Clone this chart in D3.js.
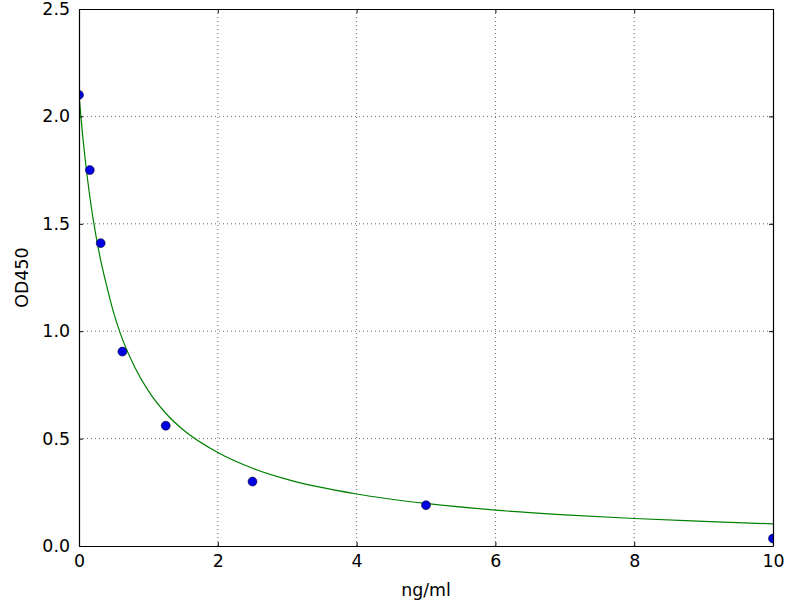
<!DOCTYPE html>
<html>
<head>
<meta charset="utf-8">
<script src="https://cdn.jsdelivr.net/npm/d3@7"></script>
<style>
  body { margin: 0; background: #fff; }
  text { font-family: "DejaVu Sans", sans-serif; fill: #000; }
</style>
</head>
<body>
<svg id="chart"></svg>
<script>
// measured standards (ng/ml vs OD450)
var concs = [0, 0.156, 0.3125, 0.625, 1.25, 2.5, 5, 10];
var ods   = [2.10, 1.75, 1.41, 0.905, 0.56, 0.30, 0.19, 0.035];

// fitted curve
var curveX = [0, 0.05, 0.1, 0.15, 0.2, 0.3, 0.4, 0.5, 0.6, 0.8, 1.0, 1.25, 1.5, 2, 2.5, 3, 4, 5, 6, 7, 8, 9, 10];
var curveY = [2.10, 1.92, 1.77, 1.64, 1.53, 1.35, 1.21, 1.085, 0.985, 0.835, 0.722, 0.618, 0.541, 0.435, 0.362, 0.31, 0.242, 0.198, 0.167, 0.145, 0.128, 0.115, 0.103];

var xTicks = [0, 2, 4, 6, 8, 10];
var yTicks = [0.0, 0.5, 1.0, 1.5, 2.0, 2.5];

var width = 800, height = 600;
var margin = {top: 9, right: 27, bottom: 54, left: 79};
var w = width - margin.left - margin.right,
    h = height - margin.top - margin.bottom;

var x = d3.scaleLinear().domain([0, 10]).range([0, w]);
var y = d3.scaleLinear().domain([0, 2.5]).range([h, 0]);

var svg = d3.select("#chart")
    .attr("width", width)
    .attr("height", height)
    .append("g")
    .attr("transform", "translate(" + margin.left + "," + margin.top + ")");

svg.append("clipPath").attr("id", "plotclip")
    .append("rect").attr("width", w).attr("height", h);

// dotted grid
svg.selectAll(".vgrid")
    .data(xTicks.slice(1, -1))
    .enter().append("line")
    .attr("x1", function(d) { return x(d); })
    .attr("x2", function(d) { return x(d); })
    .attr("y1", 0).attr("y2", h)
    .style("stroke", "#444").style("stroke-width", 0.8)
    .style("stroke-dasharray", "1,3");

svg.selectAll(".hgrid")
    .data(yTicks.slice(1, -1))
    .enter().append("line")
    .attr("y1", function(d) { return y(d); })
    .attr("y2", function(d) { return y(d); })
    .attr("x1", 0).attr("x2", w)
    .style("stroke", "#444").style("stroke-width", 0.8)
    .style("stroke-dasharray", "1,3");

// fitted line
var fit = curveX.map(function(d, i) { return {x: d, y: curveY[i]}; });
var valueline = d3.line()
    .curve(d3.curveMonotoneX)
    .x(function(d) { return x(d.x); })
    .y(function(d) { return y(d.y); });

svg.append("path")
    .datum(fit)
    .attr("d", valueline)
    .attr("clip-path", "url(#plotclip)")
    .style("fill", "none")
    .style("stroke", "#008000")
    .style("stroke-width", 1.2);

// points
var pts = concs.map(function(d, i) { return {x: d, y: ods[i]}; });
svg.append("g")
    .attr("clip-path", "url(#plotclip)")
    .selectAll("circle")
    .data(pts)
    .enter().append("circle")
    .attr("r", 4.5)
    .attr("cx", function(d) { return x(d.x); })
    .attr("cy", function(d) { return y(d.y); })
    .style("fill", "#0000e0")
    .style("stroke", "#000")
    .style("stroke-width", 0.5);

// axes, ticks inside on all four sides
var fmtY = d3.format(".1f");
svg.append("g")
    .attr("transform", "translate(0," + h + ")")
    .call(d3.axisBottom(x).tickValues(xTicks).tickSizeInner(-4).tickSizeOuter(0).tickPadding(9).tickFormat(d3.format("d")));
svg.append("g")
    .call(d3.axisTop(x).tickValues(xTicks).tickSizeInner(-4).tickSizeOuter(0).tickFormat(""));
svg.append("g")
    .call(d3.axisLeft(y).tickValues(yTicks).tickSizeInner(-4).tickSizeOuter(0).tickPadding(9).tickFormat(fmtY));
svg.append("g")
    .attr("transform", "translate(" + w + ",0)")
    .call(d3.axisRight(y).tickValues(yTicks).tickSizeInner(-4).tickSizeOuter(0).tickFormat(""));

svg.selectAll(".domain").style("stroke", "#000").style("stroke-width", 1.2);
svg.selectAll(".tick line").style("stroke", "#000").style("stroke-width", 1);
svg.selectAll(".tick text").style("font-size", "17.4px").style("font-family", "DejaVu Sans, sans-serif");

// axis labels
svg.append("text")
    .attr("x", w / 2)
    .attr("y", h + 50)
    .attr("text-anchor", "middle")
    .style("font-size", "17.4px")
    .text("ng/ml");

svg.append("text")
    .attr("transform", "translate(" + (-51) + "," + (h / 2) + ") rotate(-90)")
    .attr("text-anchor", "middle")
    .style("font-size", "17.4px")
    .text("OD450");
</script>
</body>
</html>
